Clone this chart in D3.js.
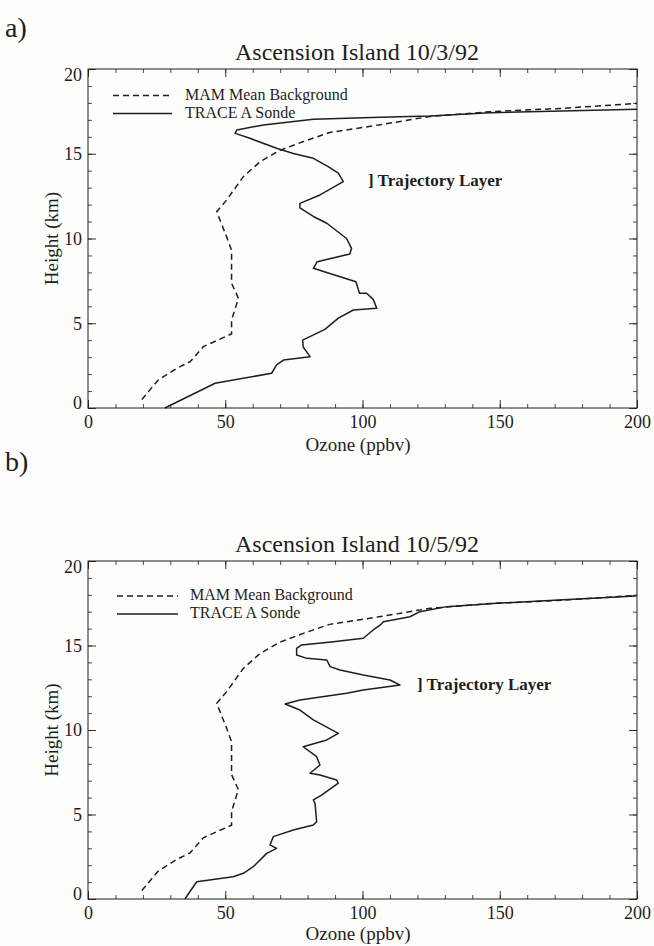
<!DOCTYPE html>
<html>
<head>
<meta charset="utf-8">
<script src="https://cdn.jsdelivr.net/npm/d3@7"></script>
<style>
  html, body { margin: 0; padding: 0; background: #fdfdfc; }
  svg { display: block; }
  text { font-family: "Liberation Serif", "DejaVu Serif", serif; fill: #1e1e1e; }
</style>
</head>
<body>
<svg id="fig" width="654" height="946"></svg>
<script>
// Axis ticks
const ozoneTicks = [0, 50, 100, 150, 200];
const heightTicks = [0, 5, 10, 15, 20];
const ozoneMinor = d3.range(0, 201, 10);
const heightMinor = d3.range(0, 21, 1);

// March-April-May mean background profile: [ozone ppbv, height km]
const mamBackground = [
  [19.6, 0.5], [25.6, 1.65], [32.3, 2.34], [37.2, 2.73], [42.0, 3.62],
  [52.3, 4.37], [52.3, 5.19], [54.8, 6.47], [52.3, 7.36], [52.3, 8.73],
  [52.3, 9.3], [50.5, 10.1], [46.9, 11.58], [50.5, 12.27], [56.6, 13.65],
  [62.7, 14.53], [69.9, 15.2], [79.0, 15.75], [88.0, 16.25], [106.0, 16.7],
  [124.6, 17.2], [146.4, 17.48], [173.0, 17.68], [200.0, 17.97]
];

// TRACE A ozonesonde, Ascension Island 10/3/92
const sondeOct3 = [
  [28.0, 0.0], [46.3, 1.46], [66.9, 2.05], [68.7, 2.54], [71.2, 2.83],
  [80.9, 3.03], [78.4, 3.6], [78.2, 4.0], [86.3, 4.64], [91.2, 5.3],
  [96.7, 5.78], [105.2, 5.88], [103.9, 6.41], [101.5, 6.77], [98.9, 6.77],
  [97.6, 7.45], [82.1, 8.24], [83.5, 8.63], [95.4, 9.09], [96.0, 9.42],
  [94.2, 10.0], [87.0, 10.9], [82.1, 11.3], [77.2, 11.8], [77.2, 12.07],
  [84.5, 12.57], [93.0, 13.35], [91.2, 13.85], [87.5, 14.24], [82.1, 14.73],
  [74.8, 15.02], [68.7, 15.32], [59.0, 15.91], [53.6, 16.2], [54.2, 16.4],
  [63.9, 16.7], [82.1, 17.03], [106.4, 17.15], [124.6, 17.23], [146.4, 17.42],
  [200.0, 17.62]
];

// TRACE A ozonesonde, Ascension Island 10/5/92
const sondeOct5 = [
  [35.3, 0.0], [39.6, 1.02], [52.9, 1.32], [56.6, 1.52], [60.2, 1.91],
  [65.1, 2.7], [68.7, 3.0], [66.3, 3.2], [67.5, 3.69], [74.8, 4.08],
  [82.1, 4.38], [83.3, 4.57], [82.7, 5.66], [82.1, 5.86], [85.1, 6.15],
  [91.2, 6.85], [90.6, 7.04], [84.5, 7.34], [80.9, 7.44], [84.5, 7.93],
  [83.3, 8.42], [78.4, 9.01], [87.0, 9.41], [91.2, 9.8], [82.1, 10.6],
  [77.2, 11.18], [71.8, 11.54], [77.2, 11.78], [94.2, 12.17], [100.3, 12.37],
  [113.7, 12.66], [110.0, 12.96], [100.3, 13.25], [91.8, 13.55], [88.2, 13.75],
  [87.0, 14.14], [79.7, 14.24], [76.0, 14.44], [76.0, 14.83], [77.8, 15.03],
  [89.4, 15.22], [100.3, 15.43], [103.9, 15.92], [106.4, 16.2], [107.6, 16.4],
  [117.3, 16.7], [120.9, 17.0], [130.7, 17.3], [148.9, 17.5], [173.2, 17.7],
  [199.6, 17.93]
];

const legendLabels = ["MAM Mean Background", "TRACE A Sonde"];
const layerLabel = "] Trajectory Layer";

const panels = [
  { tag: "a)", title: "Ascension Island 10/3/92", sonde: sondeOct3,
    top: 69, bottom: 408, tagY: 37, tickY: 428, xTitleY: 451,
    legendY: [95.5, 113.5], legendX: [113, 172], legendTextX: 185,
    layerX: 368, layerY: 186 },
  { tag: "b)", title: "Ascension Island 10/5/92", sonde: sondeOct5,
    top: 561, bottom: 899, tagY: 471, tickY: 919, xTitleY: 940,
    legendY: [596, 614], legendX: [117, 178], legendTextX: 190,
    layerX: 417, layerY: 690 }
];

const svg = d3.select("#fig");
const left = 88, right = 637;
const ink = "#1e1e1e";

panels.forEach(p => {
  const x = d3.scaleLinear().domain([0, 200]).range([left, right]);
  const y = d3.scaleLinear().domain([0, 20]).range([p.bottom, p.top]);
  const g = svg.append("g");

  // panel tag and title
  g.append("text").attr("x", 5).attr("y", p.tagY)
    .attr("font-size", 28).text(p.tag);
  g.append("text").attr("x", 357).attr("y", p.top - 9)
    .attr("text-anchor", "middle").attr("font-size", 24).text(p.title);

  // minor ticks on all four sides (pointing inward)
  const minor = (axis, tr) => g.append("g").attr("transform", tr).call(axis)
    .call(s => s.select(".domain").remove())
    .call(s => s.selectAll("text").remove())
    .call(s => s.selectAll("line").attr("stroke", ink).attr("stroke-width", 0.8));
  minor(d3.axisBottom(x).tickValues(ozoneMinor).tickSize(-4), `translate(0,${p.bottom})`);
  minor(d3.axisTop(x).tickValues(ozoneMinor).tickSize(-4), `translate(0,${p.top})`);
  minor(d3.axisLeft(y).tickValues(heightMinor).tickSize(-4), `translate(${left},0)`);
  minor(d3.axisRight(y).tickValues(heightMinor).tickSize(-4), `translate(${right},0)`);

  // major ticks with labels
  const major = (axis, tr, keepText) => g.append("g").attr("transform", tr).call(axis)
    .call(s => s.select(".domain").remove())
    .call(s => { if (!keepText) s.selectAll("text").remove(); })
    .call(s => s.selectAll("line").attr("stroke", ink).attr("stroke-width", 0.9))
    .call(s => s.selectAll("text").attr("fill", ink)
      .attr("font-family", "Liberation Serif, serif").attr("font-size", 18));
  const xAxis = major(d3.axisBottom(x).tickValues(ozoneTicks).tickSize(-8),
    `translate(0,${p.bottom})`, true);
  xAxis.selectAll(".tick text").attr("y", p.tickY - p.bottom).attr("dy", 0);
  major(d3.axisTop(x).tickValues(ozoneTicks).tickSize(-8), `translate(0,${p.top})`, false);
  const yAxis = major(d3.axisLeft(y).tickValues(heightTicks).tickSize(-8).tickPadding(6),
    `translate(${left},0)`, true);
  // end labels sit just inside the axis range
  yAxis.selectAll(".tick text")
    .attr("dy", d => d === 0 ? "0.02em" : d === 20 ? "0.62em" : "0.32em");
  major(d3.axisRight(y).tickValues(heightTicks).tickSize(-8), `translate(${right},0)`, false);

  // frame
  g.append("rect").attr("x", left).attr("y", p.top)
    .attr("width", right - left).attr("height", p.bottom - p.top)
    .attr("fill", "none").attr("stroke", ink).attr("stroke-width", 1);

  // axis titles
  g.append("text").attr("x", 358).attr("y", p.xTitleY)
    .attr("text-anchor", "middle").attr("font-size", 19).text("Ozone (ppbv)");
  g.append("text")
    .attr("transform", `translate(58,${(p.top + p.bottom) / 2}) rotate(-90)`)
    .attr("text-anchor", "middle").attr("font-size", 19).text("Height (km)");

  const line = d3.line().x(d => x(d[0])).y(d => y(d[1]));

  g.append("path").datum(mamBackground).attr("d", line)
    .attr("fill", "none").attr("stroke", ink).attr("stroke-width", 1.5)
    .attr("stroke-dasharray", "6,4");
  g.append("path").datum(p.sonde).attr("d", line)
    .attr("fill", "none").attr("stroke", ink).attr("stroke-width", 1.5)
    .attr("stroke-linejoin", "round");

  // legend
  [0, 1].forEach(i => {
    const ly = p.legendY[i];
    g.append("line").attr("x1", p.legendX[0]).attr("x2", p.legendX[1])
      .attr("y1", ly).attr("y2", ly).attr("stroke", ink).attr("stroke-width", 1.4)
      .attr("stroke-dasharray", i === 0 ? "6,4" : null);
    g.append("text").attr("x", p.legendTextX).attr("y", ly + 4)
      .attr("font-size", 16).text(legendLabels[i]);
  });

  g.append("text").attr("x", p.layerX).attr("y", p.layerY)
    .attr("font-size", 17).attr("font-weight", "bold").text(layerLabel);
});
</script>
</body>
</html>
